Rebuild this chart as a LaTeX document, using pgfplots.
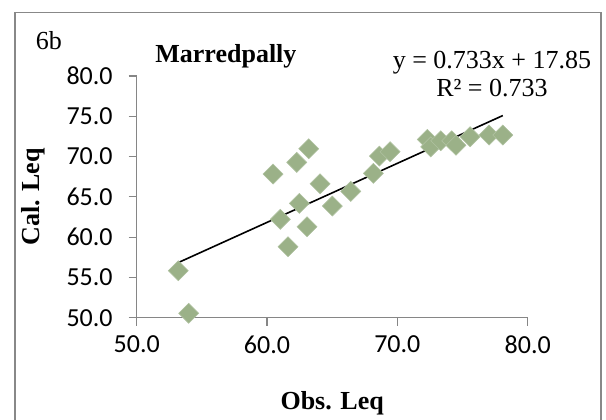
\documentclass[border=0pt]{standalone}
\usepackage{pgfplots}
\pgfplotsset{compat=1.18}
\usepackage{fontspec}
\setmainfont{Liberation Serif}
\newfontfamily\calibri{Carlito}
\definecolor{mkgreen}{RGB}{155,177,136}
\definecolor{axgray}{RGB}{134,134,134}
\definecolor{framegray}{RGB}{136,136,136}
\begin{document}
\begin{tikzpicture}
% picture 606x419 px, 1px = 0.5pt, origin at axis lower-left
\useasboundingbox (-68.35pt,-50.65pt) rectangle (234.65pt,158.85pt);
\draw[framegray, line width=0.8pt] (-60.85pt,-51pt) -- (-60.85pt,152.7pt) -- (232pt,152.7pt) -- (232pt,-51pt);
\begin{axis}[
    at={(0pt,0pt)}, anchor=origin,
    width=195.5pt, height=120.85pt, scale only axis,
    xmin=50, xmax=80, ymin=50, ymax=80,
    xtick={50,60,70,80}, ytick={50,55,...,80},
    axis x line*=bottom, axis y line*=left,
    axis line style={axgray, line width=0.6pt, -},
    tick style={axgray, line width=0.6pt},
    tick align=outside, major tick length=4pt,
    clip=false,
    /pgf/number format/.cd, fixed, fixed zerofill, precision=1, assume math mode=true,
    /pgfplots/.cd,
    ticklabel style={font=\calibri\fontsize{13}{15}\selectfont, text=black},
    yticklabel style={xshift=-4.5pt},
    xticklabel style={yshift=-1.5pt},
    xlabel={Obs. Leq}, ylabel={Cal. Leq},
    xlabel style={font=\bfseries\fontsize{13}{15}\selectfont, at={(axis description cs:0.5,-0.352)}, anchor=center},
    ylabel style={font=\bfseries\fontsize{13}{15}\selectfont, at={(axis description cs:-0.265,0.5)}, anchor=center},
]
\addplot[only marks, mark=square*, mark size=3.54pt,
    mark options={rotate=45, fill=mkgreen, draw=mkgreen!80!white, line width=0.3pt}]
coordinates {
    (53.19,55.83) (53.99,50.55) (60.46,67.83) (61.02,62.21) (61.61,58.81)
    (62.28,69.28) (62.48,64.19) (63.07,61.29) (63.20,70.97) (64.07,66.62)
    (65.01,63.86) (66.42,65.68) (68.16,67.92) (68.62,70.06) (69.44,70.60)
    (72.30,72.13) (72.56,71.20) (73.33,71.96) (74.17,71.96) (74.50,71.40)
    (75.58,72.46) (77.04,72.67) (78.09,72.67)
};
\addplot[black, line width=0.8pt] coordinates {(53.19,56.84) (78.09,75.09)};
\end{axis}
\node[anchor=center, font=\fontsize{13}{15}\selectfont] at (-43.85pt,138.35pt) {6b};
\node[anchor=base west, font=\bfseries\fontsize{13}{15}\selectfont, inner sep=0pt] at (9.15pt,127.85pt) {Marredpally};
\node[anchor=base, font=\fontsize{13}{15}\selectfont, inner sep=0pt] at (177.65pt,124.6pt) {y = 0.733x + 17.85};
\node[anchor=base, font=\fontsize{13}{15}\selectfont, inner sep=0pt] at (177.65pt,110.85pt) {R² = 0.733};
\end{tikzpicture}
\end{document}
